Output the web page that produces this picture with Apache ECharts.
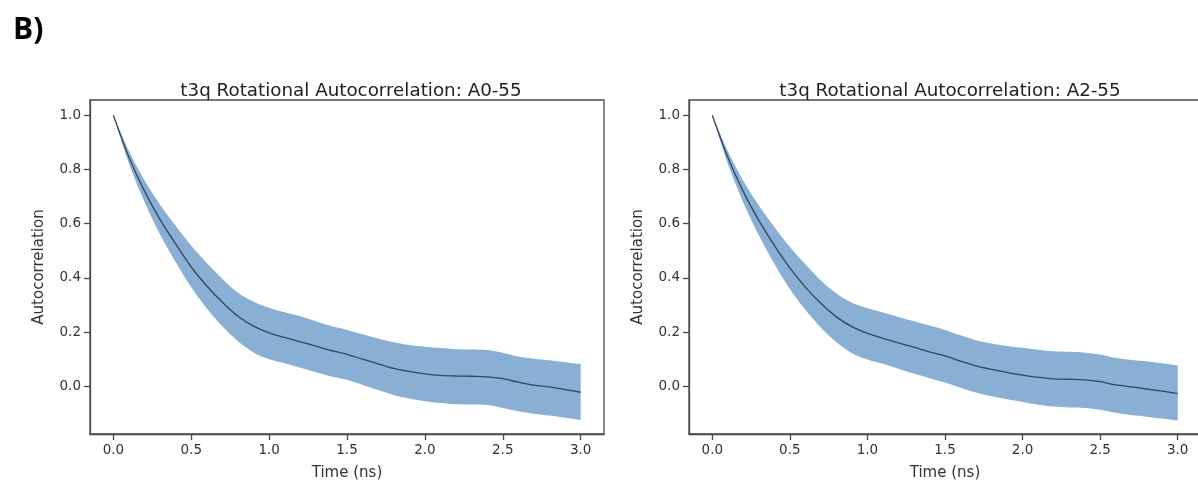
<!DOCTYPE html>
<html>
<head>
<meta charset="utf-8">
<script src="https://cdn.jsdelivr.net/npm/echarts@6/dist/echarts.min.js"></script>
<style>
  html, body { margin: 0; padding: 0; background: #fff; }
  #chart { width: 1198px; height: 483px; }
</style>
</head>
<body>
<div id="chart"></div>
<script>
// time grid (ns)
const times = [0.0, 0.1, 0.2, 0.3, 0.4, 0.5, 0.6, 0.7, 0.8, 0.9, 1.0,
  1.1, 1.2, 1.3, 1.4, 1.5, 1.6, 1.7, 1.8, 1.9, 2.0,
  2.1, 2.2, 2.3, 2.4, 2.5, 2.6, 2.7, 2.8, 2.9, 3.0];

// A0-55
const meanA0 = [1.000, 0.845, 0.720, 0.615, 0.525, 0.440, 0.370, 0.310, 0.258, 0.222, 0.197,
  0.180, 0.164, 0.148, 0.132, 0.118, 0.100, 0.083, 0.066, 0.055, 0.046,
  0.040, 0.038, 0.037, 0.035, 0.028, 0.015, 0.004, -0.002, -0.012, -0.022];
const upperA0 = [1.000, 0.868, 0.760, 0.670, 0.592, 0.518, 0.455, 0.396, 0.345, 0.312, 0.290,
  0.273, 0.258, 0.240, 0.222, 0.208, 0.192, 0.176, 0.162, 0.152, 0.146,
  0.141, 0.137, 0.136, 0.134, 0.124, 0.110, 0.102, 0.096, 0.089, 0.082];
const lowerA0 = [1.000, 0.822, 0.680, 0.560, 0.458, 0.365, 0.287, 0.221, 0.166, 0.125, 0.100,
  0.085, 0.068, 0.052, 0.036, 0.024, 0.005, -0.014, -0.032, -0.045, -0.055,
  -0.062, -0.066, -0.067, -0.069, -0.080, -0.092, -0.101, -0.108, -0.116, -0.124];

// A2-55
const meanA2 = [1.000, 0.845, 0.718, 0.612, 0.520, 0.437, 0.366, 0.306, 0.256, 0.220, 0.195,
  0.177, 0.160, 0.144, 0.127, 0.112, 0.093, 0.075, 0.062, 0.051, 0.041,
  0.033, 0.027, 0.026, 0.024, 0.017, 0.005, -0.002, -0.010, -0.018, -0.027];
const upperA2 = [1.000, 0.868, 0.758, 0.667, 0.588, 0.514, 0.450, 0.390, 0.342, 0.308, 0.288,
  0.272, 0.256, 0.240, 0.224, 0.208, 0.188, 0.170, 0.158, 0.149, 0.142,
  0.135, 0.129, 0.127, 0.124, 0.117, 0.104, 0.097, 0.092, 0.085, 0.077];
const lowerA2 = [1.000, 0.822, 0.678, 0.557, 0.452, 0.359, 0.282, 0.216, 0.163, 0.122, 0.099,
  0.083, 0.065, 0.047, 0.030, 0.014, -0.005, -0.023, -0.037, -0.048, -0.058,
  -0.068, -0.075, -0.078, -0.080, -0.087, -0.098, -0.106, -0.112, -0.119, -0.126];

const xTicks = [0, 0.5, 1.0, 1.5, 2.0, 2.5, 3.0];
const yTicks = [0, 0.2, 0.4, 0.6, 0.8, 1.0];
const titles = ['t3q Rotational Autocorrelation: A0-55', 't3q Rotational Autocorrelation: A2-55'];

const FONT = 'DejaVu Sans';
const bandColor = '#8aafd4';
const lineColor = '#34465a';
const spine = '#4a4a4a';
const X_MIN = -0.15, X_MAX = 3.15, Y_MIN = -0.176, Y_MAX = 1.056;

const grids = [
  { left: 90, top: 100, width: 514, height: 334 },
  { left: 689, top: 100, width: 512, height: 334 }
];

function xAxisFor(i) {
  return {
    type: 'value', gridIndex: i, min: X_MIN, max: X_MAX,
    name: 'Time (ns)', nameLocation: 'middle', nameGap: 32,
    nameTextStyle: { fontFamily: FONT, fontSize: 15, color: '#333' },
    axisLine: { show: true, onZero: false, lineStyle: { color: spine, width: 1.3 } },
    splitLine: { show: false },
    axisTick: { show: true, inside: false, length: 6, customValues: xTicks,
      lineStyle: { color: spine, width: 1.3 } },
    axisLabel: { customValues: xTicks, fontFamily: FONT, fontSize: 13.5, color: '#333', margin: 9,
      formatter: v => v.toFixed(1) }
  };
}
function yAxisFor(i) {
  return {
    type: 'value', gridIndex: i, min: Y_MIN, max: Y_MAX,
    name: 'Autocorrelation', nameLocation: 'middle', nameGap: 43, nameRotate: 90,
    nameTextStyle: { fontFamily: FONT, fontSize: 15, color: '#333' },
    axisLine: { show: true, onZero: false, lineStyle: { color: spine, width: 1.3 } },
    splitLine: { show: false },
    axisTick: { show: true, inside: false, length: 6, customValues: yTicks,
      lineStyle: { color: spine, width: 1.3 } },
    axisLabel: { customValues: yTicks, fontFamily: FONT, fontSize: 13.5, color: '#333', margin: 9,
      formatter: v => v.toFixed(1) }
  };
}

function pairs(vals) { return times.map((t, k) => [t, vals[k]]); }

// shaded band: one smoothed polygon (upper edge, then lower edge back)
function bandSeries(i, upper, lower) {
  return {
    type: 'custom', xAxisIndex: i, yAxisIndex: i, clip: true, silent: true, z: 2,
    data: times.map((t, k) => [t, upper[k], lower[k]]),
    encode: { x: 0, y: [1, 2] },
    renderItem: function (params, api) {
      if (params.dataIndex !== 0) return null;
      const n = times.length;
      const up = [], lo = [];
      for (let k = 0; k < n; k++) {
        up.push(api.coord([times[k], upper[k]]));
        lo.push(api.coord([times[k], lower[k]]));
      }
      // repeat the right-hand corners so the vertical end edge stays straight
      const pts = up.concat([up[n - 1], lo[n - 1]], lo.reverse());
      return {
        type: 'polygon',
        shape: { points: pts, smooth: 0.3 },
        style: { fill: bandColor, stroke: null }
      };
    }
  };
}

function meanSeries(i, mean) {
  return { type: 'line', xAxisIndex: i, yAxisIndex: i,
    data: pairs(mean), smooth: 0.3, showSymbol: false, symbol: 'none',
    lineStyle: { color: lineColor, width: 1.3 }, z: 5 };
}

const chart = echarts.init(document.getElementById('chart'), null, { renderer: 'canvas' });
chart.setOption({
  animation: false,
  backgroundColor: '#fff',
  title: [
    { text: 'B)', left: 8, top: 10,
      textStyle: { fontFamily: 'Liberation Sans Narrow, Open Sans', fontWeight: 'bold', fontSize: 30, color: '#000' } },
    { text: titles[0], left: 346, top: 77, textAlign: 'center',
      textStyle: { fontFamily: FONT, fontWeight: 'normal', fontSize: 18.3, color: '#222' } },
    { text: titles[1], left: 945, top: 77, textAlign: 'center',
      textStyle: { fontFamily: FONT, fontWeight: 'normal', fontSize: 18.3, color: '#222' } }
  ],
  grid: grids.map(g => Object.assign({ show: true, borderColor: spine, borderWidth: 1.3,
    backgroundColor: 'transparent', outerBoundsMode: 'none', containLabel: false }, g)),
  xAxis: [xAxisFor(0), xAxisFor(1)],
  yAxis: [yAxisFor(0), yAxisFor(1)],
  series: [
    bandSeries(0, upperA0, lowerA0), meanSeries(0, meanA0),
    bandSeries(1, upperA2, lowerA2), meanSeries(1, meanA2)
  ]
});
</script>
</body>
</html>
